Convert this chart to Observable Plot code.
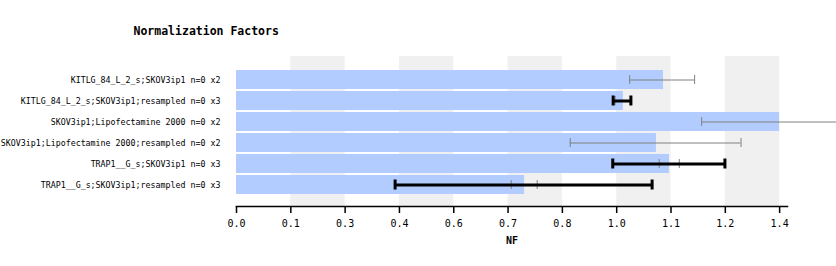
<!DOCTYPE html>
<html>
<head>
<meta charset="utf-8">
<script src="https://cdn.jsdelivr.net/npm/d3@7"></script>
<script src="https://cdn.jsdelivr.net/npm/@observablehq/plot@0.6"></script>
<style>
  html, body { margin: 0; padding: 0; background: #fff; overflow: hidden; }
  #chart svg { display: block; }
</style>
</head>
<body>
<div id="chart"></div>
<script>
const title = "Normalization Factors";
const xLabel = "NF";
const labels = [
  "KITLG_84_L_2_s;SKOV3ip1 n=0 x2",
  "KITLG_84_L_2_s;SKOV3ip1;resampled n=0 x3",
  "SKOV3ip1;Lipofectamine 2000 n=0 x2",
  "SKOV3ip1;Lipofectamine 2000;resampled n=0 x2",
  "TRAP1__G_s;SKOV3ip1 n=0 x3",
  "TRAP1__G_s;SKOV3ip1;resampled n=0 x3"
];
const nf     = [1.085, 0.983, 1.380, 1.067, 1.100, 0.732];
const sdLow  = [0.999, 0.962, 1.182, 0.848, 1.074, 0.698];
const sdHigh = [1.164, 1.004, 1.578, 1.282, 1.125, 0.764];
const ciLow  = [null, 0.957, null, null, 0.956, 0.403];
const ciHigh = [null, 1.002, null, null, 1.241, 1.056];
const tickValues = [0, 0.138, 0.276, 0.414, 0.552, 0.690, 0.828, 0.966, 1.104, 1.242, 1.380];
const tickLabels = ["0.0", "0.1", "0.3", "0.4", "0.6", "0.7", "0.8", "1.0", "1.1", "1.2", "1.4"];
const shadeStart = [0.138, 0.414, 0.690, 0.966, 1.242];
const shadeEnd   = [0.276, 0.552, 0.828, 1.104, 1.380];

const rows = labels.map((label, i) => ({
  label, nf: nf[i], sdLow: sdLow[i], sdHigh: sdHigh[i], ciLow: ciLow[i], ciHigh: ciHigh[i]
}));
const ciRows = rows.filter(d => d.ciLow != null);
const shades = shadeStart.map((s, i) => ({x1: s, x2: shadeEnd[i]}));
const fmt = new Map(tickValues.map((v, i) => [v, tickLabels[i]]));

const plot = Plot.plot({
  width: 836,
  height: 266,
  marginTop: 56,
  marginBottom: 60,
  marginLeft: 236,
  marginRight: 49,
  style: {fontFamily: "'DejaVu Sans Mono', monospace", fontSize: "10px", color: "#000", background: "#fff"},
  x: {domain: [0, 1.4]},
  y: {domain: labels, insetTop: 12, insetBottom: 10, paddingInner: 0.1, paddingOuter: 0.05},
  marks: [
    Plot.rectX(shades, {x1: "x1", x2: "x2", fill: "#f0f0f0"}),
    Plot.barX(rows, {x: "nf", y: "label", fill: "#b2ccff"}),
    Plot.ruleY(rows, {y: "label", x1: "sdLow", x2: "sdHigh", stroke: "#808080", strokeWidth: 1}),
    Plot.tickX(rows, {x: "sdLow", y: "label", stroke: "#808080", strokeWidth: 1, insetTop: 5, insetBottom: 5}),
    Plot.tickX(rows, {x: "sdHigh", y: "label", stroke: "#808080", strokeWidth: 1, insetTop: 5, insetBottom: 5}),
    Plot.ruleY(ciRows, {y: "label", x1: "ciLow", x2: "ciHigh", stroke: "#000", strokeWidth: 3}),
    Plot.tickX(ciRows, {x: "ciLow", y: "label", stroke: "#000", strokeWidth: 3, insetTop: 4.5, insetBottom: 4.5}),
    Plot.tickX(ciRows, {x: "ciHigh", y: "label", stroke: "#000", strokeWidth: 3, insetTop: 4.5, insetBottom: 4.5}),
    Plot.frame({anchor: "bottom", stroke: "#000", strokeWidth: 1.5}),
    Plot.axisX({
      ticks: tickValues,
      tickFormat: d => fmt.get(d),
      tickSize: 7,
      tickPadding: 6,
      strokeWidth: 1.5,
      fontSize: 10,
      label: null
    }),
    Plot.text([xLabel], {frameAnchor: "bottom", dy: 34, fontWeight: "bold", fontSize: 10, lineAnchor: "middle"}),
    Plot.axisY({tickSize: 0, tickPadding: 16, fontSize: 8.3, label: null}),
    Plot.text([title], {frameAnchor: "top-left", dx: -103, dy: -25, textAnchor: "start", lineAnchor: "middle", fontWeight: "bold", fontSize: 11.5})
  ]
});
document.getElementById("chart").appendChild(plot);
</script>
</body>
</html>
